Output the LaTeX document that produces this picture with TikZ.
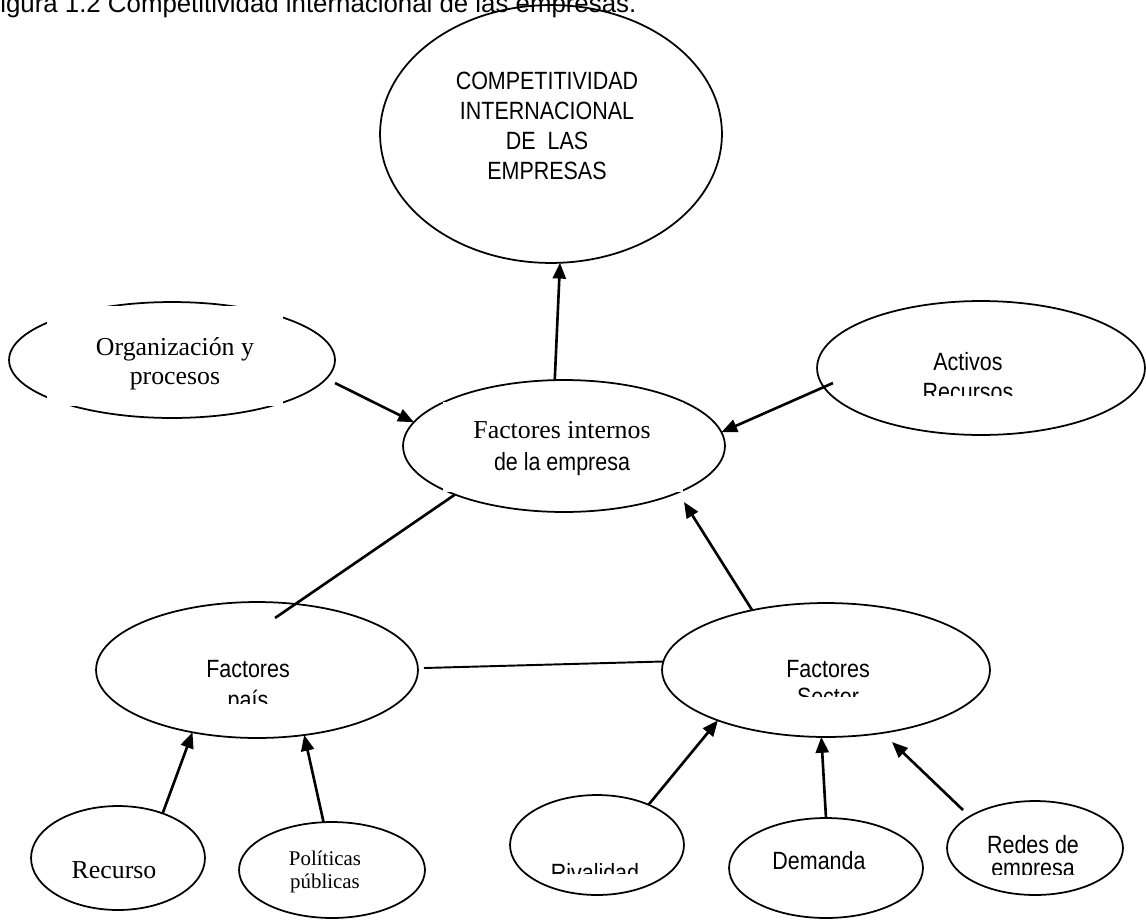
\documentclass[tikz,border=0pt]{standalone}
\usepackage{fontspec}
\setmainfont{Liberation Serif}
\newfontfamily\arial{Liberation Sans}
\newfontfamily\arialn[FakeStretch=0.86]{Liberation Sans}
\usetikzlibrary{shapes.geometric,arrows.meta}
\begin{document}
\begin{tikzpicture}[x=0.02cm,y=-0.02cm,
  ell/.style 2 args={draw, ellipse, line width=1pt, inner sep=0pt, outer sep=0pt,
     minimum width=#1*0.04cm, minimum height=#2*0.04cm},
  sn/.style={font=\arialn\fontsize{14.2pt}{17pt}\selectfont, align=center, inner sep=0pt, anchor=base},
  tr/.style={font=\fontsize{14.7pt}{16.4pt}\selectfont, align=center, inner sep=0pt, anchor=base},
  arr/.style={line width=1.5pt, -{Triangle[length=9pt,width=7.4pt]}},
  ln/.style={line width=1.5pt},
  cover/.style={fill=white, draw=none}]
\useasboundingbox (0,0) rectangle (1146,920);

% title
\node[anchor=base west, inner sep=0pt, font=\arial\fontsize{14.7pt}{17pt}\selectfont] (title) at (0,12.7)
  {igura 1.2 Competitividad internacional de las empresas.};

% ellipses
\node[ell={171}{129}] (C)  at (551,134) {};
\node[ell={163}{58}]  (O)  at (172,360) {};
\node[ell={164}{67}]  (A)  at (981,368) {};
\node[ell={161}{66}]  (F)  at (564,446) {};
\node[ell={161}{68}]  (P)  at (257,670) {};
\node[ell={164}{67}]  (S)  at (826,670) {};
\node[ell={87}{52}]   (R)  at (118,858) {};
\node[ell={93}{48}]   (PP) at (332,870) {};
\node[ell={87}{50}]   (Rv) at (597,845) {};
\node[ell={97}{50}]   (D)  at (826,868) {};
\node[ell={88}{47}]   (Rd) at (1035,848) {};

% white text boxes that hide parts of the outlines
\path[cover] (47,306) rectangle (283,406);
\path[cover] (443,402) rectangle (683,492);

% texts (base anchor = baseline of the last line)
\node[sn] (Ct) at (547,179) {COMPETITIVIDAD\\INTERNACIONAL\\DE \ LAS\\EMPRESAS};
\node[tr] (Ot) at (175,384) {Organización y\\procesos};
\node[tr, font=\fontsize{14.7pt}{18.1pt}\selectfont] (Ft) at (562,470)
  {Factores internos\\\arialn\fontsize{14.2pt}{18.1pt}\selectfont de la empresa};
\begin{scope}
  \clip (800,300) rectangle (1146,395);
  \node[sn] (At) at (968,400) {Activos\\Recursos};
\end{scope}
\begin{scope}
  \clip (97,600) rectangle (420,703);
  \node[sn, font=\arialn\fontsize{14.2pt}{17.6pt}\selectfont] (Pt) at (248,708) {Factores\\país};
\end{scope}
\begin{scope}
  \clip (662,600) rectangle (990,696);
  \node[sn, font=\arialn\fontsize{14.2pt}{15.9pt}\selectfont] (St) at (828,705) {Factores\\Sector};
\end{scope}
\node[tr] (Rt) at (114,878) {Recurso};
\node[tr, font=\fontsize{11.9pt}{13pt}\selectfont] (PPt) at (325,888) {Políticas\\públicas};
\begin{scope}
  \clip (510,795) rectangle (685,873);
  \node[sn] (Rvt) at (595,881) {Rivalidad};
\end{scope}
\node[sn] (Dt) at (819,869) {Demanda};
\begin{scope}
  \clip (947,800) rectangle (1123,874);
  \node[sn, font=\arialn\fontsize{14.2pt}{13pt}\selectfont] (Rdt) at (1033,876) {Redes de\\empresa};
\end{scope}

% free ends
\coordinate (o1) at (335,383);
\coordinate (a1) at (833,383);
\coordinate (p1) at (275,618);
\coordinate (p2) at (424,668);
\coordinate (f1) at (684,502);
\coordinate (s1) at (892,742);
\coordinate (r1) at (963,810);

% connectors
\draw[arr] (F.98) -- (C.274.8);
\draw[arr] (o1) -- (F.171);
\draw[arr] (a1) -- (F.5.8);
\draw[ln] (F.204) -- (p1);
\draw[line width=1.1pt] (p2) -- (S.177.5);
\draw[arr] (S.141) -- (f1);
\draw[arr] (R.45.6) -- (P.224.5);
\draw[arr] (PP.100.6) -- (P.-54.5);
\draw[arr] (Rv.38.1) -- (S.205.5);
\draw[arr] (D.north) -- (S.266.7);
\draw[arr] (r1) -- (s1);
\end{tikzpicture}
\end{document}
